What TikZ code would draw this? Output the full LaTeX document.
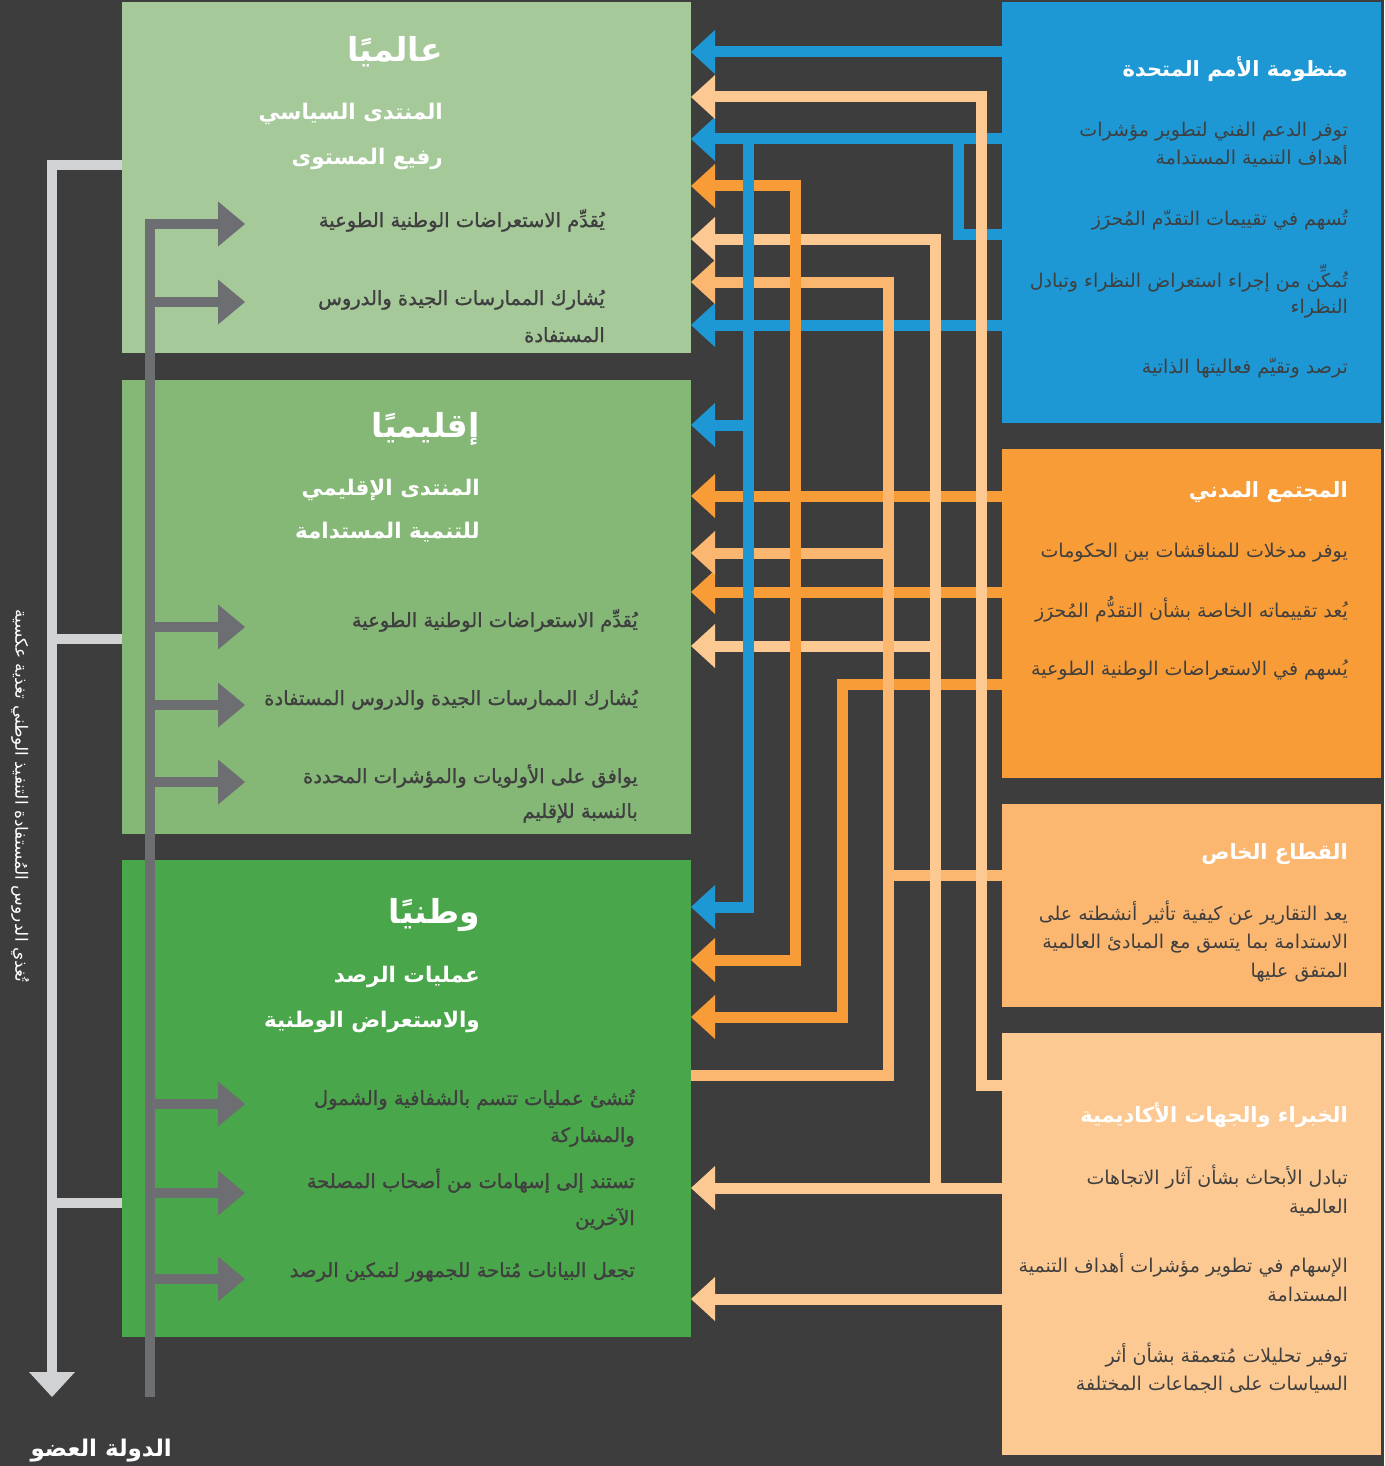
\documentclass[tikz,border=0pt]{standalone}
\usepackage{fontspec}
\usetikzlibrary{arrows.meta}
\TeXXeTstate=1
\newfontfamily\ar[Script=Arabic]{DejaVu Sans}
\newfontfamily\arm[Script=Arabic,FakeBold=1.2]{DejaVu Sans}
\definecolor{bgc}{HTML}{3D3D3D}
\definecolor{gGlob}{HTML}{A6C99A}
\definecolor{gReg}{HTML}{85B876}
\definecolor{gNat}{HTML}{4AA64A}
\definecolor{cB}{HTML}{1E98D5}
\definecolor{cO}{HTML}{F89C38}
\definecolor{cP}{HTML}{FBB670}
\definecolor{cE}{HTML}{FDC992}
\definecolor{dgray}{HTML}{6D6E71}
\definecolor{lgray}{HTML}{D1D2D4}
\definecolor{txtc}{HTML}{3F3F3F}
\newcommand{\arl}[1]{\beginR #1\endR}
\begin{document}
\begin{tikzpicture}[x=1pt,y=-1pt,
  box/.style={draw=none, inner sep=0pt, outer sep=0pt, anchor=north west},
  conn/.style={line width=11pt, line cap=butt},
  tipe/.style={-{Triangle[length=24pt,width=44pt,line width=0pt]}},
  tips/.style={{Triangle[length=24pt,width=44pt,line width=0pt]}-},
  tipb/.style={{Triangle[length=24pt,width=44pt,line width=0pt]}-{Triangle[length=24pt,width=44pt,line width=0pt]}},
  glw/.style={line width=10.5pt, line cap=butt},
  gtip/.style={-{Triangle[length=27pt,width=45pt,line width=0pt]}},
  lh/.style={anchor=base east, inner sep=0pt, text=white, font=\ar\bfseries\fontsize{33}{38}\selectfont},
  ls/.style={anchor=base east, inner sep=0pt, text=white, font=\ar\bfseries\fontsize{21.5}{26}\selectfont},
  li/.style={anchor=base east, inner sep=0pt, text=txtc, font=\arm\fontsize{19.5}{23}\selectfont},
  rh/.style={anchor=base east, inner sep=0pt, text=white, font=\ar\bfseries\fontsize{21}{25}\selectfont},
  ri/.style={anchor=base east, inner sep=0pt, text=txtc, font=\ar\fontsize{19}{22}\selectfont}
]
\useasboundingbox (0,0) rectangle (1384,1466);
\fill[bgc] (0,0) rectangle (1384,1466);

% boxes
\node[box, fill=gGlob, minimum width=569pt, minimum height=351pt] (glob) at (122,2) {};
\node[box, fill=gReg, minimum width=569pt, minimum height=454pt] (reg) at (122,380) {};
\node[box, fill=gNat, minimum width=569pt, minimum height=477pt] (nat) at (122,860) {};
\node[box, fill=cB, minimum width=379pt, minimum height=421pt] (un) at (1002,2) {};
\node[box, fill=cO, minimum width=379pt, minimum height=329pt] (civ) at (1002,449) {};
\node[box, fill=cP, minimum width=379pt, minimum height=203pt] (priv) at (1002,804) {};
\node[box, fill=cE, minimum width=379pt, minimum height=422pt] (exp) at (1002,1033) {};

% feedback (light gray)
\coordinate (fbend) at (52,1397);
\draw[lgray, glw, -{Triangle[length=25pt,width=46pt,line width=0pt]}] (glob.west |- 0,165) -- (52,165) -- (fbend);
\draw[lgray, glw] (reg.west |- 0,639) -- (52,639);
\draw[lgray, glw] (nat.west |- 0,1203) -- (52,1203);

% member state (dark gray)
\coordinate (msend) at (150,1397);
\draw[dgray, glw, gtip] (msend) -- (150,224) -- (245,224);
\foreach \yy in {302,627,705,782,1104,1193,1279}
  \draw[dgray, glw, gtip] (150,\yy) -- (245,\yy);

% colored connectors
\draw[conn, cB, tipe] (un.west |- 0,52) -- (glob.east |- 0,52);
\draw[conn, cB, tipe] (un.west |- 0,139) -- (glob.east |- 0,139);
\draw[conn, cB] (un.west |- 0,234) -- (958,234) -- (958,139);
\draw[conn, cB, tipe] (un.west |- 0,325) -- (glob.east |- 0,325);

\draw[conn, cO, tipe] (civ.west |- 0,496) -- (reg.east |- 0,496);
\draw[conn, cO, tipe] (civ.west |- 0,592) -- (reg.east |- 0,592);
\draw[conn, cO, tipe] (civ.west |- 0,684) -- (842,684) -- (842,1017) -- (nat.east |- 0,1017);
\draw[conn, cO, tipb] (glob.east |- 0,186) -- (795,186) -- (795,960) -- (nat.east |- 0,960);

\draw[conn, cP] (priv.west |- 0,875) -- (888,875);
\draw[conn, cP, tips] (glob.east |- 0,282) -- (888,282) -- (888,1075) -- (nat.east |- 0,1075);
\draw[conn, cP, tipe] (888,553) -- (reg.east |- 0,553);

\draw[conn, cE, tips] (glob.east |- 0,97) -- (981,97) -- (981,1085) -- (exp.west |- 0,1085);
\draw[conn, cE, tips] (glob.east |- 0,239) -- (935,239) -- (935,1188);
\draw[conn, cE, tipe] (exp.west |- 0,1188) -- (nat.east |- 0,1188);
\draw[conn, cE, tipe] (935,646) -- (reg.east |- 0,646);
\draw[conn, cE, tipe] (exp.west |- 0,1299) -- (nat.east |- 0,1299);

\draw[conn, cB, tipe] (748,139) -- (748,907) -- (nat.east |- 0,907);
\draw[conn, cB, tipe] (748,425) -- (reg.east |- 0,425);

% verticals on top
\draw[conn, cO] (795,186) -- (795,960);
\draw[conn, cO] (842,684) -- (842,1017);
\draw[conn, cP] (888,282) -- (888,1075);
\draw[conn, cE] (935,239) -- (935,1188);
\draw[conn, cE] (981,97) -- (981,1085);
\draw[conn, cB] (958,139) -- (958,234);
\draw[conn, cB] (748,139) -- (748,907);

% global texts
\node[lh] (g1) at (443,62) {\arl{عالميًا}};
\node[ls] (g2) at (443,120) {\arl{المنتدى السياسي}};
\node[ls] (g3) at (443,165) {\arl{رفيع المستوى}};
\node[li] (g4) at (605,227) {\arl{يُقدِّم الاستعراضات  الوطنية الطوعية}};
\node[li] (g5) at (605,305) {\arl{يُشارك الممارسات الجيدة  والدروس}};
\node[li] (g6) at (605,342) {\arl{المستفادة}};

% regional texts
\node[lh] (r1) at (480,437) {\arl{إقليميًا}};
\node[ls] (r2) at (480,495) {\arl{المنتدى الإقليمي}};
\node[ls] (r3) at (480,538) {\arl{للتنمية المستدامة}};
\node[li] (r4) at (638,627) {\arl{يُقدِّم الاستعراضات الوطنية الطوعية}};
\node[li] (r5) at (638,705) {\arl{يُشارك الممارسات الجيدة والدروس المستفادة}};
\node[li] (r6) at (638,783) {\arl{يوافق على الأولويات والمؤشرات المحددة}};
\node[li] (r7) at (638,818) {\arl{بالنسبة للإقليم}};

% national texts
\node[lh] (n1) at (480,923) {\arl{وطنيًا}};
\node[ls] (n2) at (480,982) {\arl{عمليات الرصد}};
\node[ls] (n3) at (480,1027) {\arl{والاستعراض الوطنية}};
\node[li] (n4) at (635,1105) {\arl{تُنشئ عمليات تتسم بالشفافية والشمول}};
\node[li] (n5) at (635,1142) {\arl{والمشاركة}};
\node[li] (n6) at (635,1188) {\arl{تستند إلى إسهامات من أصحاب المصلحة}};
\node[li] (n7) at (635,1225) {\arl{الآخرين}};
\node[li] (n8) at (635,1277) {\arl{تجعل البيانات مُتاحة للجمهور لتمكين الرصد}};

% UN texts
\node[rh] (u1) at (1348,77) {\arl{منظومة الأمم المتحدة}};
\node[ri] (u2) at (1348,137) {\arl{توفر الدعم الفني لتطوير مؤشرات}};
\node[ri] (u3) at (1348,165) {\arl{أهداف التنمية المستدامة}};
\node[ri] (u4) at (1348,225) {\arl{تُسهم في تقييمات التقدّم المُحرَز}};
\node[ri] (u5) at (1348,287) {\arl{تُمكِّن من إجراء استعراض النظراء وتبادل}};
\node[ri] (u6) at (1348,313) {\arl{النظراء}};
\node[ri] (u7) at (1348,373) {\arl{ترصد وتقيّم فعاليتها الذاتية}};

% civil society texts
\node[rh] (c1) at (1348,497) {\arl{المجتمع المدني}};
\node[ri] (c2) at (1348,557) {\arl{يوفر مدخلات للمناقشات بين الحكومات}};
\node[ri] (c3) at (1348,617) {\arl{يُعد تقييماته الخاصة بشأن التقدُّم المُحرَز}};
\node[ri] (c4) at (1348,675) {\arl{يُسهم في الاستعراضات الوطنية الطوعية}};

% private sector texts
\node[rh] (p1) at (1348,859) {\arl{القطاع الخاص}};
\node[ri] (p2) at (1348,920) {\arl{يعد التقارير عن كيفية تأثير أنشطته على}};
\node[ri] (p3) at (1348,948) {\arl{الاستدامة بما يتسق مع المبادئ العالمية}};
\node[ri] (p4) at (1348,977) {\arl{المتفق عليها}};

% experts texts
\node[rh] (e1) at (1348,1122) {\arl{الخبراء والجهات الأكاديمية}};
\node[ri] (e2) at (1348,1184) {\arl{تبادل الأبحاث بشأن آثار الاتجاهات}};
\node[ri] (e3) at (1348,1213) {\arl{العالمية}};
\node[ri] (e4) at (1348,1272) {\arl{الإسهام في تطوير مؤشرات أهداف التنمية}};
\node[ri] (e5) at (1348,1301) {\arl{المستدامة}};
\node[ri] (e6) at (1348,1362) {\arl{توفير تحليلات مُتعمقة بشأن أثر}};
\node[ri] (e7) at (1348,1390) {\arl{السياسات على الجماعات المختلفة}};

% side label and member state
\node[rotate=-90, inner sep=0pt, text=white, font=\ar\fontsize{17}{20}\selectfont] (side) at (20,796) {\arl{تُغذي الدروس المُستفادة التنفيذ الوطني تغذية عكسية}};
\node[anchor=base east, inner sep=0pt, text=white, font=\ar\bfseries\fontsize{23}{28}\selectfont] (ms) at (172,1456) {\arl{الدولة العضو}};
\end{tikzpicture}
\end{document}
